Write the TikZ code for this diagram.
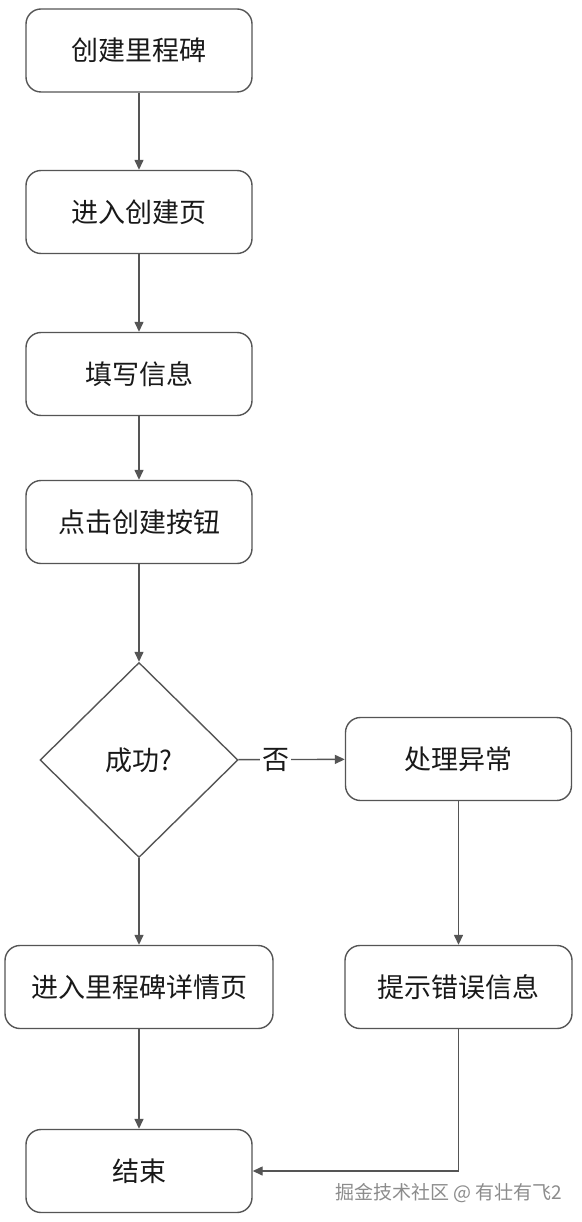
\documentclass[tikz,border=0pt]{standalone}
\usepackage{fontspec}
\setmainfont{Noto Sans CJK SC}
\usetikzlibrary{shapes.geometric,arrows.meta}
\definecolor{ln}{HTML}{555555}
\begin{document}
\begin{tikzpicture}[x=1pt,y=-1pt,
  lbl/.style={font=\fontsize{27}{30}\selectfont,text=black!90},
  box/.style={draw=ln,line width=1.4pt,rounded corners=15pt,minimum width=226pt,minimum height=83pt,inner sep=0pt,lbl},
  arr/.style={draw=ln,line width=1.4pt,-{Triangle[length=10pt,width=9pt]}}]
\useasboundingbox[fill=white] (0,0) rectangle (581,1222);
\node[box] (a) at (139,50.5) {创建里程碑};
\node[box] (b) at (139,212) {进入创建页};
\node[box] (c) at (139,374) {填写信息};
\node[box] (d) at (139,522) {点击创建按钮};
\node[draw=ln,line width=1.4pt,diamond,minimum width=198pt,minimum height=195pt,inner sep=0pt,lbl] (e) at (139,760) {成功?};
\node[box] (f) at (458.5,759) {处理异常};
\node[box,minimum width=268pt] (g) at (139,987) {进入里程碑详情页};
\node[box,minimum width=227pt] (h) at (458.5,987) {提示错误信息};
\node[box] (i) at (139,1171) {结束};
\draw[arr] (a) -- (b);
\draw[arr] (b) -- (c);
\draw[arr] (c) -- (d);
\draw[arr] (d) -- (e);
\draw[arr] (e) -- node[pos=0.35,fill=white,inner sep=2pt,lbl]{否} (f);
\draw[arr] (e) -- (g);
\draw[arr] (f) -- (h);
\draw[arr] (g) -- (i);
\draw[arr] (h.south) |- (i.east);
\node[font=\fontsize{19}{22}\selectfont,text=black!45] (w) at (449,1193) {掘金技术社区 @ 有壮有飞2};
\end{tikzpicture}
\end{document}
